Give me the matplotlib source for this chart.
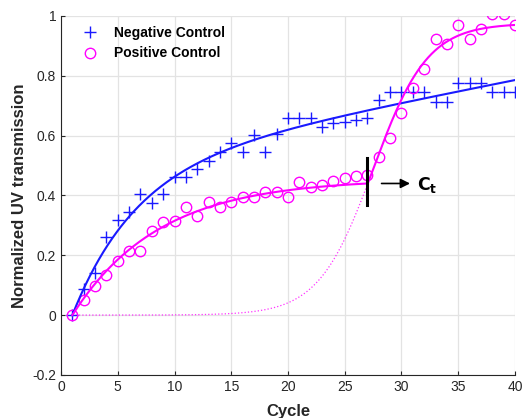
import numpy as np
import matplotlib
matplotlib.use("Agg")
import matplotlib.pyplot as plt

plt.rcParams['font.family'] = ['Liberation Sans', 'DejaVu Sans']

# data
cycles = np.arange(1, 41)
neg_ctrl = [0, 0.086, 0.141, 0.26, 0.318, 0.344, 0.405, 0.374, 0.405, 0.46,
            0.46, 0.487, 0.516, 0.546, 0.576, 0.546, 0.602, 0.546, 0.604, 0.66,
            0.66, 0.66, 0.63, 0.643, 0.647, 0.652, 0.658, 0.719, 0.747, 0.747,
            0.747, 0.747, 0.713, 0.713, 0.777, 0.777, 0.777, 0.747, 0.747, 0.747]
pos_ctrl = [0, 0.05, 0.098, 0.133, 0.182, 0.215, 0.215, 0.282, 0.312, 0.314,
            0.362, 0.331, 0.379, 0.362, 0.379, 0.396, 0.395, 0.412, 0.412, 0.396,
            0.444, 0.429, 0.434, 0.448, 0.457, 0.465, 0.468, 0.527, 0.593, 0.675,
            0.758, 0.823, 0.922, 0.905, 0.971, 0.922, 0.955, 1.005, 1.005, 0.971]
ct_cycle = 27

# fit curves of the positive control, parameters
plateau_amp, plateau_rate = 0.455, 0.131      # a*(1-exp(-b*(x-1)))
sig_amp, sig_mid, sig_width = 0.975, 27.5, 2.4  # A/(1+exp(-(x-x0)/s))

neg = np.array(neg_ctrl)
pos = np.array(pos_ctrl)


# least squares fit of y = a*(1-exp(-b*(x-1))) + c*(x-1)
def fit_saturating(x, y):
    best = None
    for b in np.linspace(0.01, 1.0, 400):
        A = np.column_stack([1 - np.exp(-b * (x - 1)), x - 1])
        coef = np.linalg.lstsq(A, y, rcond=None)[0]
        err = np.sum((A @ coef - y) ** 2)
        if best is None or err < best[0]:
            best = (err, b, coef)
    _, b, (a, c) = best
    return lambda t: a * (1 - np.exp(-b * (t - 1))) + c * (t - 1)


def plateau_fit(t):
    return plateau_amp * (1 - np.exp(-plateau_rate * (t - 1)))


def sig_fit(t):
    return sig_amp / (1 + np.exp(-(t - sig_mid) / sig_width))


neg_fit = fit_saturating(cycles.astype(float), neg)
ct_val = plateau_fit(ct_cycle)

t_all = np.linspace(1, 40, 400)
t_pre = np.linspace(1, ct_cycle, 300)
t_post = np.linspace(ct_cycle, 40, 300)

fig = plt.figure(figsize=(5.26, 4.18), dpi=100)
ax = fig.add_axes([0.116, 0.103, 0.863, 0.859])

ax.plot(t_pre, sig_fit(t_pre), ':', color='#ff00ff', linewidth=0.9, alpha=0.8)
ax.plot(cycles, neg, '+', color='#1a1aff', markersize=9, markeredgewidth=1.0,
        linestyle='none', label='Negative Control')
ax.plot(cycles, pos, 'o', color='#ff00ff', markersize=7.5, markerfacecolor='none',
        markeredgewidth=1.0, linestyle='none', label='Positive Control')
ax.plot(t_all, neg_fit(t_all), color='#1a1aff', linewidth=1.5)
ax.plot(t_pre, plateau_fit(t_pre), color='#ff00ff', linewidth=1.5)
ax.plot(t_post, sig_fit(t_post), color='#ff00ff', linewidth=1.5)

# Ct marker
ax.plot([ct_cycle, ct_cycle], [ct_val - 0.072, ct_val + 0.085], color='black', linewidth=2.2)
ax.annotate('', xy=(31.0, ct_val), xytext=(28.0, ct_val),
            arrowprops=dict(arrowstyle='-|>', color='black', lw=1.2,
                            mutation_scale=14))
ax.text(31.4, ct_val - 0.005, r'$\mathbf{C_t}$', fontsize=12.5, va='center', ha='left')

ax.set_xlim(0, 40)
ax.set_ylim(-0.2, 1)
ax.set_xticks(np.arange(0, 41, 5))
ax.set_yticks([-0.2, 0, 0.2, 0.4, 0.6, 0.8, 1])
ax.set_yticklabels(['-0.2', '0', '0.2', '0.4', '0.6', '0.8', '1'])
ax.tick_params(labelsize=10, colors='#262626', direction='in', length=3)
ax.grid(True, color='#e3e3e3', linewidth=0.9)
ax.set_axisbelow(True)
for side in ['top', 'right']:
    ax.spines[side].set_visible(False)
for side in ['left', 'bottom']:
    ax.spines[side].set_color('#262626')

ax.set_xlabel('Cycle', fontsize=12, fontweight='bold', color='#262626', labelpad=7)
ax.set_ylabel('Normalized UV transmission', fontsize=12, fontweight='bold', color='#262626',
              labelpad=4)

leg = ax.legend(loc='upper left', bbox_to_anchor=(0.0, 1.008), frameon=False,
                prop={'weight': 'bold', 'size': 10},
                handletextpad=0.58, borderaxespad=0.55, labelspacing=0.45,
                handlelength=2.3)

fig.savefig('out.png', dpi=100)
